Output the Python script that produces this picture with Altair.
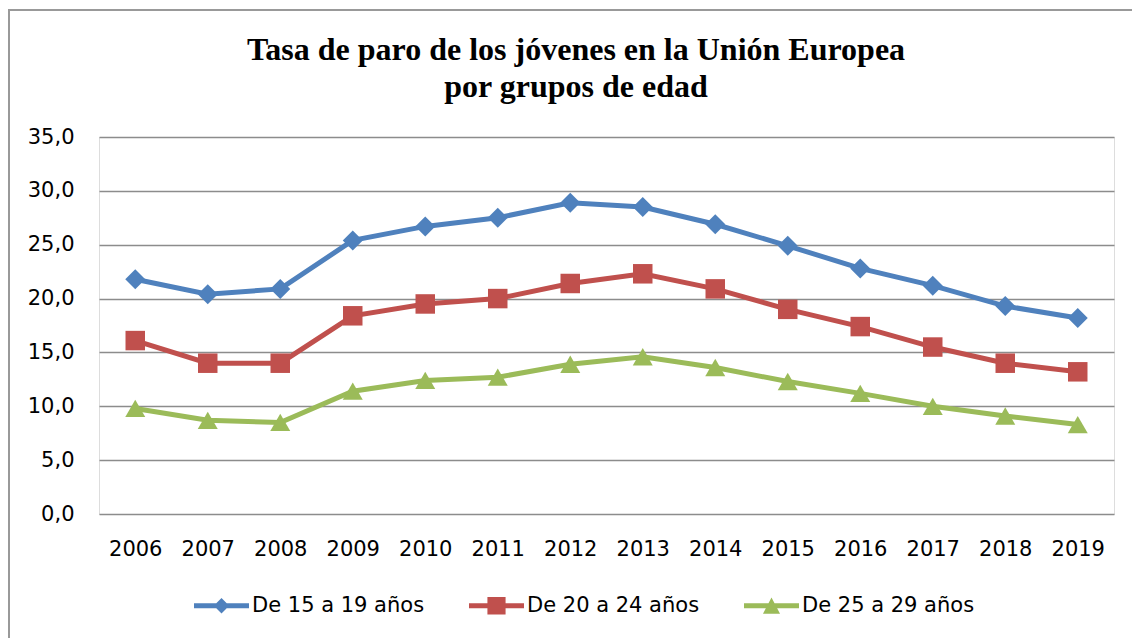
import altair as alt
import pandas as pd

years = [str(y) for y in range(2006, 2020)]
series_names = ["De 15 a 19 años", "De 20 a 24 años", "De 25 a 29 años"]
s1519 = [21.8, 20.4, 20.9, 25.4, 26.7, 27.5, 28.9, 28.5, 26.9, 24.9, 22.8, 21.2, 19.3, 18.2]
s2024 = [16.1, 14.0, 14.0, 18.4, 19.5, 20.0, 21.4, 22.3, 20.9, 19.0, 17.4, 15.5, 14.0, 13.2]
s2529 = [9.8, 8.7, 8.5, 11.4, 12.4, 12.7, 13.9, 14.6, 13.6, 12.3, 11.2, 10.0, 9.1, 8.3]
colors = ["#4F81BD", "#C0504D", "#9BBB59"]
marker_shapes = ["diamond", "square", "triangle-up"]
marker_sizes = [400, 380, 400]
title_lines = ["Tasa de paro de los jóvenes en la Unión Europea", "por grupos de edad"]
legend_paths = [
    "M-1,-0.09 L1,-0.09 L1,0.09 L-1,0.09 Z M0,-0.28 L0.28,0 L0,0.28 L-0.28,0 Z",
    "M-1,-0.09 L1,-0.09 L1,0.09 L-1,0.09 Z M-0.33,-0.32 L0.33,-0.32 L0.33,0.32 L-0.33,0.32 Z",
    "M-1,-0.09 L1,-0.09 L1,0.09 L-1,0.09 Z M0,-0.3 L0.31,0.29 L-0.31,0.29 Z",
]

rows = []
for name, vals in zip(series_names, [s1519, s2024, s2529]):
    for y, v in zip(years, vals):
        rows.append({"anio": y, "valor": v, "serie": name})
df = pd.DataFrame(rows)

FONT = "DejaVu Sans"

x_enc = alt.X("anio:O", title=None,
              scale=alt.Scale(type="point", padding=0.5),
              axis=alt.Axis(labelAngle=0, labelFontSize=21, labelFont=FONT, labelColor="#000",
                            ticks=False, domain=False, grid=False, labelPadding=24))
y_enc = alt.Y("valor:Q", title=None,
              scale=alt.Scale(domain=[0, 35]),
              axis=alt.Axis(values=[0, 5, 10, 15, 20, 25, 30, 35],
                            labelExpr="replace(format(datum.value, '.1f'), '.', ',')",
                            labelFontSize=21, labelFont=FONT, labelColor="#000",
                            ticks=False, domain=False, grid=True, gridColor="#8c8c8c",
                            gridWidth=1.5, labelPadding=25))
color_scale = alt.Scale(domain=series_names, range=colors)
leg = alt.Legend(title=None, orient="none", direction="horizontal",
                 legendX=95, legendY=441, padding=0,
                 symbolSize=3025, symbolOpacity=1,
                 labelFont=FONT, labelFontSize=21, labelColor="#000", labelLimit=400,
                 labelOffset=3, columnPadding=44, symbolStrokeWidth=0)
color_enc = alt.Color("serie:N", scale=color_scale, legend=leg)

base = alt.Chart(df)

lines = base.mark_line(strokeWidth=5).encode(x=x_enc, y=y_enc, color=color_enc)

point_layers = []
for name, shp, sz in zip(series_names, marker_shapes, marker_sizes):
    point_layers.append(
        base.transform_filter(alt.datum.serie == name)
        .mark_point(filled=True, opacity=1, size=sz, shape=shp)
        .encode(x=x_enc, y=y_enc, color=color_enc)
    )

legend_layer = base.mark_point(filled=True, opacity=0).encode(
    x=x_enc, y=y_enc, color=color_enc,
    shape=alt.Shape("serie:N", scale=alt.Scale(domain=series_names, range=legend_paths), legend=leg),
)

frame = alt.Chart(pd.DataFrame({"k": [0]})).mark_rect(
    fill=None, stroke="#999999", strokeWidth=2, clip=False
).encode(x=alt.value(-90), x2=alt.value(1100), y=alt.value(-127), y2=alt.value(700))

title1 = alt.Chart(pd.DataFrame({"k": [0]})).mark_text(
    text=title_lines[0], font="Liberation Serif", fontSize=32, fontWeight="bold",
    color="#000", align="center", baseline="alphabetic"
).encode(x=alt.value(477), y=alt.value(-77))
title2 = alt.Chart(pd.DataFrame({"k": [0]})).mark_text(
    text=title_lines[1], font="Liberation Serif", fontSize=32, fontWeight="bold",
    color="#000", align="center", baseline="alphabetic"
).encode(x=alt.value(477), y=alt.value(-40))

chart = alt.layer(frame, title1, title2, lines, *point_layers, legend_layer).properties(
    width=1015, height=377,
    autosize=alt.AutoSizeParams(type="none"),
    padding={"left": 91, "top": 129, "right": 18, "bottom": 124},
).configure_view(stroke=None).configure(background="white")

chart.save("out.html", embed_options={"renderer": "svg", "actions": False})
